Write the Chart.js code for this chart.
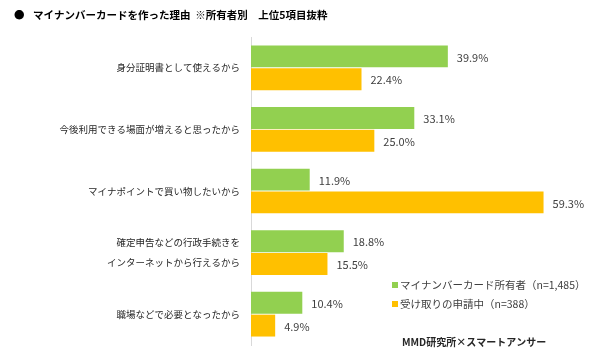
<!DOCTYPE html>
<html>
<head>
<meta charset="utf-8">
<script src="https://cdn.jsdelivr.net/npm/chart.js@4.4.1/dist/chart.umd.min.js"></script>
<style>
html,body{margin:0;padding:0;background:#fff;}
canvas{display:block;}
</style>
</head>
<body>
<canvas id="c" width="590" height="360"></canvas>
<script>
const titleText = '●';
const titleBody = 'マイナンバーカードを作った理由  ※所有者別　上位5項目抜粋';
const sourceText = 'MMD研究所×スマートアンサー';
const categories = [
  '身分証明書として使えるから',
  '今後利用できる場面が増えると思ったから',
  'マイナポイントで買い物したいから',
  ['確定申告などの行政手続きを', 'インターネットから行えるから'],
  '職場などで必要となったから'
];
const seriesNames = ['マイナンバーカード所有者（n=1,485）', '受け取りの申請中（n=388）'];
const ownersValues = [39.9, 33.1, 11.9, 18.8, 10.4];
const applyingValues = [22.4, 25.0, 59.3, 15.5, 4.9];
const seriesColors = ['#92D050', '#FFC000'];

const FONT = "'Noto Sans CJK JP', 'Noto Sans', sans-serif";

const decorPlugin = {
  id: 'decor',
  afterDatasetsDraw(chart) {
    const ctx = chart.ctx;
    ctx.save();
    // value labels
    ctx.font = '11px ' + FONT;
    ctx.fillStyle = '#404040';
    ctx.textAlign = 'left';
    ctx.textBaseline = 'middle';
    chart.data.datasets.forEach((ds, di) => {
      const meta = chart.getDatasetMeta(di);
      meta.data.forEach((bar, i) => {
        ctx.fillText(ds.data[i].toFixed(1) + '%', bar.x + 9, bar.y + 1);
      });
    });
    // legend
    const lx = 392, ly = [285, 304];
    ctx.font = '10.5px ' + FONT;
    chart.data.datasets.forEach((ds, di) => {
      ctx.fillStyle = ds.backgroundColor;
      ctx.fillRect(lx, ly[di] - 3, 6, 6);
      ctx.fillStyle = '#404040';
      ctx.fillText(ds.label, lx + 8, ly[di]);
    });
    // source
    ctx.font = 'bold 10px ' + FONT;
    ctx.fillStyle = '#262626';
    ctx.fillText(sourceText, 402, 342);
    // title
    ctx.fillStyle = '#000';
    ctx.font = 'bold 10.5px ' + FONT;
    ctx.fillText(titleText, 14, 15);
    ctx.fillText(titleBody, 33, 15);
    ctx.restore();
  }
};

new Chart(document.getElementById('c'), {
  type: 'bar',
  data: {
    labels: categories,
    datasets: [
      { label: seriesNames[0], data: ownersValues, backgroundColor: seriesColors[0] },
      { label: seriesNames[1], data: applyingValues, backgroundColor: seriesColors[1] }
    ]
  },
  options: {
    indexAxis: 'y',
    responsive: false,
    animation: false,
    devicePixelRatio: 1,
    layout: { padding: { top: 37, bottom: 15, right: 43, left: 0 } },
    categoryPercentage: 0.74,
    barPercentage: 0.96,
    plugins: {
      legend: { display: false },
      title: { display: false },
      tooltip: { enabled: false }
    },
    scales: {
      x: {
        display: false,
        min: 0,
        max: 60
      },
      y: {
        afterFit(scale) { scale.width = 251; },
        grid: { display: false },
        border: { display: true, color: '#d9d9d9', width: 1 },
        ticks: {
          padding: 3,
          color: '#262626',
          font: { family: FONT, size: 9.5, lineHeight: 2.1 }
        }
      }
    }
  },
  plugins: [decorPlugin]
});
</script>
</body>
</html>
